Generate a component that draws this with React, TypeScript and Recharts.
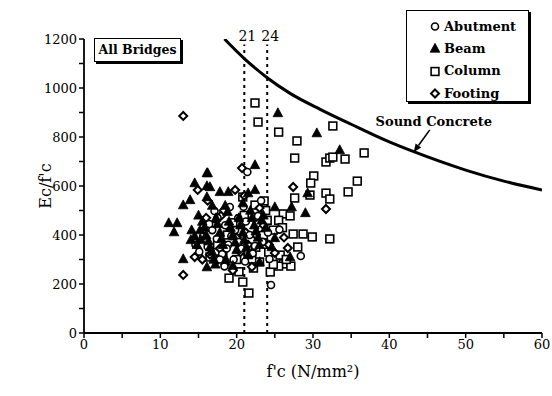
import React from 'react';
import {
  ScatterChart,
  Scatter,
  XAxis,
  YAxis,
  ReferenceLine,
  Label,
} from 'recharts';

const xTicks = [0, 5, 10, 15, 20, 25, 30, 35, 40, 45, 50, 55, 60];
const yTicks = [0, 100, 200, 300, 400, 500, 600, 700, 800, 900, 1000, 1100, 1200];
const limits = [21, 24];

// Ec/f'c of sound concrete
const soundConcrete = [
  [18.4, 1200], [21, 1120], [24, 1042], [27, 978], [31, 912], [35, 852],
  [40, 780], [43.2, 740], [50, 665], [55, 620], [60, 584],
].map(([x, y]) => ({ x, y }));

const abutment = [
  [21.4, 657], [24.5, 196], [28.4, 314], [19.1, 514], [20.2, 469], [16.8, 420],
  [17.5, 470], [18.5, 440], [19.8, 420], [21.2, 455], [22.6, 445], [15.6, 395],
  [17.4, 385], [18.9, 360], [20.6, 345], [22.1, 325], [23.4, 372], [24.1, 410],
  [16.2, 352], [18.1, 322], [19.6, 300], [21.1, 292], [17.1, 498], [22.8, 478],
  [20.3, 372], [15.1, 332], [18.4, 272], [24.3, 302], [25.6, 422], [23.2, 540],
  [16.4, 445], [19.3, 395], [21.7, 400], [14.6, 360], [20.9, 515], [18.7, 345],
  [17.8, 300], [22.4, 355],
].map(([x, y]) => ({ x, y }));

const beam = [
  [11.1, 449], [12.2, 449], [11.8, 412], [13.0, 522], [13.0, 302], [14.5, 612],
  [16.1, 653], [16.1, 600], [13.9, 543], [16.1, 555], [14.1, 420], [15.2, 420],
  [16.1, 269], [16.2, 653], [17.8, 576], [18.9, 576], [16.5, 596], [22.4, 686],
  [22.4, 584], [21.5, 571], [25.4, 898], [30.5, 816], [33.5, 747], [25.0, 514],
  [27.2, 514], [29.0, 490], [29.3, 571], [25.0, 388], [24.6, 351], [27.0, 310],
  [15.0, 480], [15.5, 455], [15.8, 430], [16.0, 400], [16.3, 375], [16.5, 350],
  [16.8, 330], [17.0, 300], [17.3, 470], [17.5, 445], [17.8, 410], [18.0, 385],
  [18.2, 360], [18.5, 520], [18.8, 495], [19.0, 455], [19.2, 430], [19.5, 400],
  [19.8, 370], [20.0, 340], [20.3, 470], [20.5, 440], [20.8, 410], [21.0, 380],
  [21.3, 350], [21.5, 320], [21.8, 500], [22.0, 470], [22.3, 440], [22.5, 415],
  [22.8, 390], [23.0, 360], [23.3, 460], [23.5, 480], [23.8, 430], [15.3, 380],
  [14.8, 360], [14.5, 395], [17.2, 280], [18.6, 300], [19.5, 275], [14.0, 380],
  [16.8, 520], [20.8, 530], [23.0, 290],
].map(([x, y]) => ({ x, y }));

const column = [
  [22.4, 939], [22.8, 861], [25.5, 820], [27.9, 784], [27.6, 714], [32.6, 845],
  [36.7, 735], [34.2, 710], [31.7, 698], [32.2, 714], [32.6, 718], [30.1, 641],
  [29.7, 612], [29.6, 563], [35.8, 620], [34.6, 576], [31.7, 571], [32.2, 547],
  [27.6, 551], [23.6, 539], [22.4, 522], [26.1, 486], [27.0, 478], [27.4, 404],
  [28.7, 404], [29.9, 392], [32.2, 384], [28.0, 351], [24.8, 420], [25.7, 318],
  [26.1, 282], [22.0, 302], [22.2, 265], [24.4, 249], [20.8, 208], [21.6, 163],
  [19.0, 224], [18.2, 330], [20.0, 300], [21.5, 320], [23.0, 290], [25.5, 273],
  [27.1, 273], [22.5, 350], [23.5, 400], [24.0, 460], [21.0, 480], [19.5, 450],
  [18.8, 400], [17.5, 360], [25.5, 460], [26.0, 430], [20.8, 555], [23.8, 500],
  [24.2, 330], [16.5, 310], [20.3, 250], [26.5, 300], [24.8, 280], [23.3, 430],
].map(([x, y]) => ({ x, y }));

const footing = [
  [13.0, 886], [13.0, 237], [20.7, 673], [27.4, 596], [31.7, 506], [26.7, 347],
  [25.0, 327], [16.5, 320], [17.5, 300], [18.5, 280], [19.5, 255], [20.5, 330],
  [21.5, 360], [16.0, 470], [17.0, 440], [18.0, 480], [19.0, 430], [20.0, 390],
  [21.2, 410], [22.5, 400], [23.5, 440], [24.2, 360], [15.5, 300], [17.8, 345],
  [22.0, 270], [19.8, 584], [14.9, 584], [16.2, 540], [26.2, 390], [14.5, 310],
  [23.0, 510], [21.0, 560], [18.3, 500],
].map(([x, y]) => ({ x, y }));

const FONT = '"DejaVu Serif", serif';

const CircleMark = ({ cx, cy }: any) => (
  <circle cx={cx} cy={cy} r={3.5} fill="#fff" stroke="#000" strokeWidth={1.6} />
);
const TriangleMark = ({ cx, cy }: any) => (
  <polygon
    points={`${cx},${cy - 5.2} ${cx - 4.8},${cy + 3.7} ${cx + 4.8},${cy + 3.7}`}
    fill="#000"
    stroke="#000"
    strokeWidth={0.8}
  />
);
const SquareMark = ({ cx, cy }: any) => (
  <rect x={cx - 3.9} y={cy - 3.9} width={7.8} height={7.8} fill="#fff" stroke="#000" strokeWidth={1.6} />
);
const DiamondMark = ({ cx, cy }: any) => (
  <polygon
    points={`${cx},${cy - 4} ${cx + 4},${cy} ${cx},${cy + 4} ${cx - 4},${cy}`}
    fill="#fff"
    stroke="#000"
    strokeWidth={2}
  />
);
const NoMark = () => <g />;

const ArrowNote = (props: any) => {
  const { x1, y1, x2, y2 } = props;
  const ang = Math.atan2(y2 - y1, x2 - x1);
  const h = 8;
  const w = 3.5;
  const bx = x2 - h * Math.cos(ang);
  const by = y2 - h * Math.sin(ang);
  const px = -Math.sin(ang) * w;
  const py = Math.cos(ang) * w;
  return (
    <g>
      <line x1={x1} y1={y1} x2={bx} y2={by} stroke="#000" strokeWidth={1.6} />
      <polygon points={`${x2},${y2} ${bx + px},${by + py} ${bx - px},${by - py}`} fill="#000" />
      <text x={x1 + 4} y={y1 - 4} textAnchor="middle" fontFamily={FONT} fontSize={13} fontWeight="bold" fill="#000">
        Sound Concrete
      </text>
    </g>
  );
};

const legendItems = [
  { name: 'Abutment', Mark: CircleMark },
  { name: 'Beam', Mark: TriangleMark },
  { name: 'Column', Mark: SquareMark },
  { name: 'Footing', Mark: DiamondMark },
];

const tickStyle = { fontFamily: FONT, fontSize: 13, fill: '#000' };

export default function App() {
  return (
    <div style={{ position: 'absolute', left: 0, top: 0, width: 552, height: 396, background: '#fff' }}>
      <ScatterChart width={552} height={396} margin={{ top: 39, right: 10, bottom: 33, left: 0 }}>
        <XAxis
          type="number"
          dataKey="x"
          domain={[0, 60]}
          ticks={xTicks}
          tickFormatter={(v: number) => (v % 10 === 0 ? String(v) : '')}
          tick={tickStyle}
          tickSize={5}
          tickLine={{ stroke: '#000', strokeWidth: 1.5 }}
          axisLine={{ stroke: '#000', strokeWidth: 1.8 }}
          height={30}
          allowDataOverflow
        >
          <Label
            value="f'c  (N/mm²)"
            position="bottom"
            offset={3}
            style={{ fontFamily: FONT, fontSize: 16, fill: '#000' }}
          />
        </XAxis>
        <YAxis
          type="number"
          dataKey="y"
          domain={[0, 1200]}
          ticks={yTicks}
          tickFormatter={(v: number) => (v % 200 === 0 ? String(v) : '')}
          tick={tickStyle}
          tickSize={5}
          tickLine={{ stroke: '#000', strokeWidth: 1.5 }}
          axisLine={{ stroke: '#000', strokeWidth: 1.8 }}
          width={84}
          allowDataOverflow
        >
          <Label
            value="Ec/f'c"
            angle={-90}
            position="center"
            dx={3}
            style={{ fontFamily: FONT, fontSize: 16, fill: '#000' }}
          />
        </YAxis>
        {limits.map((v) => (
          <ReferenceLine
            key={v}
            segment={[{ x: v, y: 0 }, { x: v, y: 1178 }]}
            stroke="#000"
            strokeWidth={2}
            strokeDasharray="3 4"
            ifOverflow="visible"
            label={{ value: String(v), position: 'top', dx: 3, offset: 3, style: { fontFamily: FONT, fontSize: 14, fill: '#000' } }}
          />
        ))}
        <Scatter
          name="Sound Concrete"
          data={soundConcrete}
          line={{ stroke: '#000', strokeWidth: 3 }}
          lineJointType="monotoneX"
          shape={NoMark}
          isAnimationActive={false}
        />
        <ReferenceLine
          segment={[{ x: 45.3, y: 829 }, { x: 43.2, y: 739 }]}
          ifOverflow="visible"
          shape={ArrowNote}
        />
        <Scatter name="Column" data={column} shape={SquareMark} isAnimationActive={false} />
        <Scatter name="Footing" data={footing} shape={DiamondMark} isAnimationActive={false} />
        <Scatter name="Abutment" data={abutment} shape={CircleMark} isAnimationActive={false} />
        <Scatter name="Beam" data={beam} shape={TriangleMark} isAnimationActive={false} />
      </ScatterChart>

      <div
        style={{
          position: 'absolute',
          left: 94,
          top: 38,
          width: 85,
          height: 22,
          border: '1.5px solid #000',
          boxShadow: '2px 2px 0 #000',
          background: '#fff',
          fontFamily: FONT,
          fontSize: 12.5,
          fontWeight: 'bold',
          lineHeight: '22px',
          textAlign: 'center',
        }}
      >
        All Bridges
      </div>

      <div
        style={{
          position: 'absolute',
          left: 406,
          top: 10,
          width: 121,
          height: 90,
          border: '1.5px solid #000',
          boxShadow: '2px 2px 0 #000',
          background: '#fff',
          fontFamily: FONT,
        }}
      >
        {legendItems.map(({ name, Mark }, i) => (
          <div
            key={name}
            style={{ position: 'absolute', left: 22, top: 5 + i * 22.4, height: 20, display: 'flex', alignItems: 'center' }}
          >
            <svg width={12} height={12} style={{ marginRight: 3 }}>
              <Mark cx={6} cy={6.5} />
            </svg>
            <span style={{ fontSize: 13, fontWeight: 'bold', color: '#000' }}>{name}</span>
          </div>
        ))}
      </div>
    </div>
  );
}
